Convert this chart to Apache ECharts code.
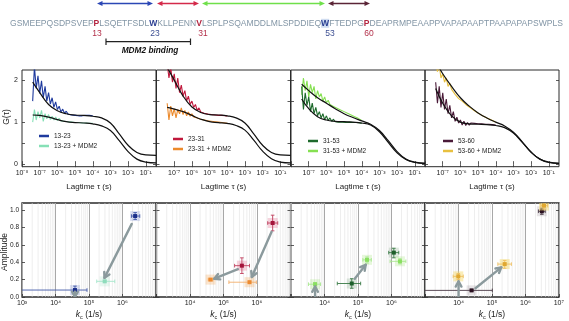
<!DOCTYPE html>
<html><head><meta charset="utf-8">
<script src="https://cdn.jsdelivr.net/npm/echarts@6/dist/echarts.min.js"></script>
<style>html,body{margin:0;padding:0;background:#fff}#c{width:569px;height:321px}</style>
</head><body><div id="c"></div>
<script>
// ================= DATA =================
// FCS lag times of the measured (noisy) traces, s
const LAG = [3.98e-8,5.01e-8,6.31e-8,7.94e-8,1.0e-7,1.26e-7,1.58e-7,2.0e-7,2.51e-7,3.16e-7,
  3.98e-7,5.01e-7,6.31e-7,7.94e-7,1.0e-6,1.26e-6,1.58e-6,2.0e-6,2.51e-6,3.16e-6,
  3.98e-6,5.01e-6,6.31e-6,7.94e-6,1.0e-5,1.26e-5,1.58e-5,2.0e-5,2.51e-5,3.16e-5,
  3.98e-5,5.01e-5,6.31e-5,7.94e-5,1.0e-4];
// lag times of the fitted curves, s
const FIT_LAG = [3.98e-8,1e-7,3.16e-7,1e-6,3.16e-6,1e-5,3.16e-5,1e-4,3.16e-4,1e-3,3.16e-3,1e-2,3.16e-2,1e-1,0.38];

const G_13_23 = [1.50,2.32,1.80,2.10,1.68,1.98,1.58,1.85,1.50,1.70,1.43,1.58,1.35,1.48,1.30,1.38,1.24,1.31,1.21,1.26,1.19,1.23,1.17,1.20,1.16,1.19,1.15,1.18,1.15,1.17,1.16,1.15,1.16,1.14,1.15];
const G_13_23_MDM2 = [1.00,1.30,1.05,1.25,1.10,1.28,1.02,1.20,1.08,1.18,1.06,1.14,1.05,1.12,1.04,1.09,1.03,1.06,1.02,1.04,1.01,1.02,1.00,1.01,0.99,1.00,0.99,0.99,0.98,0.99,0.98,0.98,0.97,0.98,0.97];
const G_23_31 = [2.40,2.05,2.30,1.95,2.15,1.80,2.05,1.70,1.88,1.62,1.75,1.50,1.62,1.42,1.50,1.35,1.42,1.28,1.34,1.24,1.28,1.21,1.23,1.19,1.21,1.18,1.19,1.17,1.18,1.16,1.17,1.16,1.16,1.15,1.15];
const G_23_31_MDM2 = [1.45,1.05,1.38,1.15,1.32,1.10,1.30,1.20,1.34,1.18,1.28,1.15,1.24,1.14,1.20,1.12,1.16,1.10,1.12,1.07,1.08,1.05,1.05,1.03,1.03,1.02,1.01,1.01,1.00,1.00,0.99,0.99,0.98,0.98,0.97];
const G_31_53 = [1.85,1.30,1.70,1.40,1.60,1.25,1.45,1.20,1.35,1.15,1.25,1.10,1.20,1.06,1.15,1.04,1.10,1.02,1.07,1.01,1.05,1.00,1.03,1.00,1.02,0.99,1.01,1.00,1.00,0.99,0.99,0.99,0.98,0.98,0.97];
const G_31_53_MDM2 = [1.65,2.05,1.75,1.98,1.60,1.90,1.70,1.85,1.55,1.75,1.60,1.68,1.50,1.60,1.46,1.52,1.42,1.46,1.37,1.40,1.33,1.34,1.29,1.29,1.25,1.24,1.21,1.20,1.17,1.16,1.13,1.12,1.09,1.07,1.04];
const G_53_60 = [1.95,1.45,1.85,1.35,1.70,1.30,1.55,1.20,1.40,1.10,1.25,1.02,1.12,0.98,1.05,0.93,1.02,0.92,0.99,0.93,0.98,0.94,0.97,0.94,0.96,0.94,0.96,0.95,0.95,0.94,0.95,0.94,0.94,0.93,0.93];
const G_53_60_MDM2 = [2.40,2.20,2.35,2.05,2.15,1.95,2.05,1.85,1.92,1.78,1.80,1.66,1.70,1.56,1.60,1.50,1.50,1.42,1.42,1.36,1.36,1.30,1.29,1.24,1.23,1.19,1.18,1.14,1.13,1.10,1.09,1.06,1.04,1.02,1.00];

const FIT_13_23 = [1.95,1.70,1.42,1.27,1.20,1.17,1.16,1.14,1.10,0.98,0.72,0.45,0.28,0.22,0.21];
const FIT_13_23_MDM2 = [1.17,1.16,1.12,1.06,1.01,0.99,0.98,0.96,0.91,0.80,0.56,0.30,0.12,0.05,0.03];
const FIT_23_31 = [2.30,2.00,1.62,1.36,1.23,1.18,1.17,1.15,1.10,0.98,0.72,0.45,0.28,0.22,0.21];
const FIT_23_31_MDM2 = [1.35,1.31,1.25,1.16,1.07,1.01,0.99,0.97,0.92,0.81,0.57,0.31,0.13,0.05,0.03];
const FIT_31_53 = [1.55,1.32,1.13,1.05,1.02,1.01,1.00,0.98,0.93,0.77,0.52,0.27,0.11,0.04,0.02];
const FIT_31_53_MDM2 = [1.90,1.75,1.58,1.45,1.32,1.20,1.11,1.03,0.95,0.80,0.56,0.30,0.12,0.05,0.02];
const FIT_53_60 = [1.80,1.45,1.15,1.00,0.96,0.95,0.94,0.92,0.87,0.74,0.52,0.28,0.12,0.04,0.02];
const FIT_53_60_MDM2 = [2.45,2.15,1.85,1.58,1.38,1.22,1.10,1.00,0.91,0.76,0.53,0.29,0.12,0.05,0.02];

const LEGEND_NAMES = [['13-23','13-23 + MDM2'],['23-31','23-31 + MDM2'],['31-53','31-53 + MDM2'],['53-60','53-60 + MDM2']];

// kc points: [kc (1/s), amplitude, kc low, kc high, amp low, amp high]
const K_13_23 = [[2.4e6,0.93,1.86e6,3.3e6,0.89,0.97],[3.8e4,0.08,1e2,8.7e4,0.035,0.125]];
const K_13_23_MDM2 = [[2.95e5,0.18,1.7e5,5.9e5,0.17,0.19]];
const K_23_31 = [[2.95e6,0.85,2.1e6,4.2e6,0.76,0.94],[3.55e5,0.36,2.15e5,6.0e5,0.27,0.45]];
const K_23_31_MDM2 = [[4.1e4,0.20,3.5e4,4.8e4,0.19,0.21],[6.0e5,0.17,1.45e5,9.6e5,0.16,0.18]];
const K_31_53 = [[6.5e4,0.155,2.4e4,1.2e5,0.10,0.21],[1.18e6,0.51,8.3e5,1.66e6,0.45,0.56]];
const K_31_53_MDM2 = [[5.2e3,0.147,3.3e3,7.6e3,0.13,0.165],[1.86e5,0.427,1.4e5,2.5e5,0.39,0.46],[1.8e6,0.41,9.1e5,2.7e6,0.38,0.44]];
const K_53_60 = [[2.45e4,0.076,1e2,1.02e5,0.065,0.087],[3.1e6,0.985,2.45e6,3.9e6,0.95,1.02]];
const K_53_60_MDM2 = [[9.8e3,0.237,6.9e3,1.38e4,0.20,0.27],[2.4e5,0.378,1.5e5,3.8e5,0.33,0.42],[3.6e6,1.05,2.9e6,4.6e6,1.01,1.09]];
// shift arrows: [kc from, amp from, kc to, amp to]
const ARROWS_13_23 = [[1.9e6,0.84,2.9e5,0.22],[3.8e4,0.06,3.8e4,0.0]];
const ARROWS_23_31 = [[2.75e6,0.75,7.0e5,0.23],[2.7e5,0.32,5.3e4,0.21]];
const ARROWS_31_53 = [[5.2e3,0.0,5.2e3,0.12],[8.0e4,0.21,1.7e5,0.37]];
const ARROWS_53_60 = [[1.0e4,0.0,1.0e4,0.18],[3.2e4,0.10,1.9e5,0.34]];

const TOP_TICKS = [1e-8,1e-7,1e-6,1e-5,1e-4,1e-3,1e-2,1e-1];
const BOT_TICKS = [1e3,1e4,1e5,1e6,1e7];
const G_TICKS = [0,0.5,1,1.5,2];
const G_LABELS = [0,1,2];
const AMP_TICKS = [0,0.2,0.4,0.6,0.8,1.0];

// ================= STYLE / LAYOUT =================
const FONT = '"Liberation Sans", Arial, sans-serif';
const TXT = '#222';
const PANEL_LEFT = [22, 156.5, 291, 425];
const PANEL_W = 134;
const TOP_COLORS = [['#1f3a9e','#86e0b6'],['#c0183c','#ec8a2c'],['#1e6a2c','#86e052'],['#4a1a38','#e8c040']];
const TOP_DATA = [[G_13_23,G_13_23_MDM2],[G_23_31,G_23_31_MDM2],[G_31_53,G_31_53_MDM2],[G_53_60,G_53_60_MDM2]];
const TOP_FITS = [[FIT_13_23,FIT_13_23_MDM2],[FIT_23_31,FIT_23_31_MDM2],[FIT_31_53,FIT_31_53_MDM2],[FIT_53_60,FIT_53_60_MDM2]];
const LEGEND_POS = [[39,131],[173,134],[308,136],[443,136]];
const BOT_SETS = [
  {pts:[K_13_23,K_13_23_MDM2], arrows:ARROWS_13_23, labels:[1e3,1e4,1e5,1e6]},
  {pts:[K_23_31,K_23_31_MDM2], arrows:ARROWS_23_31, labels:[1e4,1e5,1e6]},
  {pts:[K_31_53,K_31_53_MDM2], arrows:ARROWS_31_53, labels:[1e4,1e5,1e6]},
  {pts:[K_53_60,K_53_60_MDM2], arrows:ARROWS_53_60, labels:[1e4,1e5,1e6,1e7]}
];
const BOT_COLORS = [
  [{mark:'#1a2e8a',bar:'#4258a8',halo:'rgba(60,90,190,0.18)'},{mark:'#8fdcbc',bar:'#a6e6cb',halo:'rgba(140,220,185,0.2)'}],
  [{mark:'#a3143a',bar:'#c0405e',halo:'rgba(220,80,120,0.25)'},{mark:'#ec8a30',bar:'#f2ae6a',halo:'rgba(240,150,60,0.25)'}],
  [{mark:'#1d5e2a',bar:'#3a7a46',halo:'rgba(40,110,50,0.15)'},{mark:'#8adf60',bar:'#a8e88e',halo:'rgba(140,220,90,0.22)'}],
  [{mark:'#2a1020',bar:'#4a3a46',halo:'rgba(60,30,50,0.12)'},{mark:'#e0a830',bar:'#eec060',halo:'rgba(245,215,100,0.45)'}]
];

const SUP = {'-':'\u207B','0':'\u2070','1':'\u00B9','2':'\u00B2','3':'\u00B3','4':'\u2074','5':'\u2075','6':'\u2076','7':'\u2077','8':'\u2078','9':'\u2079'};
function pow10Label(v){ const e = Math.round(Math.log10(v)); return '10' + String(e).split('').map(c => SUP[c]).join(''); }

const MINOR_K = [];
for (let d = 3; d < 7; d++) for (let m = 2; m <= 9; m++) MINOR_K.push(m * Math.pow(10, d));

// ================= OPTION =================
const grid = [], xAxis = [], yAxis = [], series = [], legend = [];

for (let i = 0; i < 4; i++) {
  grid.push({left: PANEL_LEFT[i], top: 70, width: PANEL_W, height: 96.7, show: true, borderColor: '#2a2a2a', borderWidth: 1, backgroundColor: 'transparent'});
}
for (let i = 0; i < 4; i++) {
  grid.push({left: PANEL_LEFT[i], top: 203, width: PANEL_W, height: 98, show: true, borderColor: '#2a2a2a', borderWidth: 1.3, backgroundColor: 'transparent'});
}

function tickStyle(vals){ return {show: true, inside: true, length: 3, customValues: vals, lineStyle: {color: '#333', width: 0.8}}; }

// top panels axes
for (let i = 0; i < 4; i++) {
  xAxis.push({type: 'log', logBase: 10, gridIndex: i, min: 9.9e-9, max: 0.38,
    axisLine: {show: false}, axisTick: tickStyle(TOP_TICKS), splitLine: {show: false},
    axisLabel: {customValues: i === 0 ? TOP_TICKS : TOP_TICKS.slice(1), formatter: pow10Label, fontSize: 7, margin: 3, color: TXT, fontFamily: FONT},
    name: 'Lagtime \u03C4 (s)', nameLocation: 'middle', nameGap: 16, nameTextStyle: {fontSize: 8, color: TXT, fontFamily: FONT}});
  xAxis.push({type: 'log', logBase: 10, gridIndex: i, position: 'top', min: 9.9e-9, max: 0.38,
    axisLine: {show: false}, axisTick: tickStyle(TOP_TICKS), splitLine: {show: false}, axisLabel: {show: false}});
  yAxis.push({type: 'value', gridIndex: i, min: -0.06, max: 2.24,
    axisLine: {show: false}, axisTick: tickStyle(G_TICKS), splitLine: {show: false},
    axisLabel: {show: i === 0, customValues: G_LABELS, fontSize: 7, margin: 4, color: TXT, fontFamily: FONT}});
  yAxis.push({type: 'value', gridIndex: i, position: 'right', min: -0.06, max: 2.24,
    axisLine: {show: false}, axisTick: tickStyle(G_TICKS), splitLine: {show: false}, axisLabel: {show: false}});
}
// bottom panels axes
for (let i = 0; i < 4; i++) {
  const g = 4 + i;
  xAxis.push({type: 'log', logBase: 10, gridIndex: g, min: 990, max: 1.01e7,
    axisLine: {show: false}, axisTick: tickStyle(BOT_TICKS),
    splitLine: {show: true, lineStyle: {color: '#a8a8a8', width: 1}},
    axisLabel: {customValues: BOT_SETS[i].labels, formatter: pow10Label, fontSize: 7, margin: 2.5, color: TXT, fontFamily: FONT},
    name: '{k|k}{c|c}{n| (1/s)}', nameLocation: 'middle', nameGap: 12,
    nameTextStyle: {fontFamily: FONT, color: TXT, rich: {
      k: {fontSize: 8.5, fontStyle: 'italic', color: TXT, fontFamily: FONT},
      c: {fontSize: 5.5, padding: [5,0,0,0], color: TXT, fontFamily: FONT},
      n: {fontSize: 8.5, color: TXT, fontFamily: FONT}}}});
  xAxis.push({type: 'log', logBase: 10, gridIndex: g, position: 'top', min: 990, max: 1.01e7,
    axisLine: {show: false}, axisTick: {show: false}, splitLine: {show: false}, axisLabel: {show: false}});
  yAxis.push({type: 'value', gridIndex: g, min: 0, max: 1.08,
    axisLine: {show: false}, axisTick: tickStyle(AMP_TICKS), splitLine: {show: false},
    axisLabel: {show: i === 0, customValues: AMP_TICKS, formatter: v => v.toFixed(1), fontSize: 6.5, margin: 3, color: TXT, fontFamily: FONT}});
  yAxis.push({type: 'value', gridIndex: g, position: 'right', min: 0, max: 1.08,
    axisLine: {show: false}, axisTick: tickStyle(AMP_TICKS), splitLine: {show: false}, axisLabel: {show: false}});
}

// top series
for (let i = 0; i < 4; i++) {
  for (let s = 0; s < 2; s++) {
    const col = TOP_COLORS[i][s];
    series.push({type: 'line', name: LEGEND_NAMES[i][s], xAxisIndex: 2*i, yAxisIndex: 2*i,
      data: LAG.map((t, j) => [t, TOP_DATA[i][s][j]]), symbol: 'none', clip: true,
      lineStyle: {color: col, width: 1.1}, itemStyle: {color: col}, z: 2 + (1 - s)});
  }
  for (let s = 0; s < 2; s++) {
    series.push({type: 'line', xAxisIndex: 2*i, yAxisIndex: 2*i,
      data: FIT_LAG.map((t, j) => [t, TOP_FITS[i][s][j]]), symbol: 'none', clip: true,
      smooth: 0.45, lineStyle: {color: '#111', width: 1.2}, z: 5, silent: true});
  }
  legend.push({data: LEGEND_NAMES[i], left: LEGEND_POS[i][0], top: LEGEND_POS[i][1], orient: 'vertical',
    icon: 'rect', itemWidth: 10, itemHeight: 2.5, itemGap: 0, padding: 0, selectedMode: false,
    textStyle: {fontSize: 6.5, lineHeight: 10, color: TXT, fontFamily: FONT}});
}

// bottom series
for (let i = 0; i < 4; i++) {
  const xi = 8 + 2*i, yi = 8 + 2*i;
  // minor log grid lines
  series.push({type: 'custom', xAxisIndex: xi, yAxisIndex: yi, silent: true, z: 0,
    data: MINOR_K.map(v => [v]), encode: {x: 0},
    renderItem: (params, api) => {
      const a = api.coord([api.value(0), 0]), b = api.coord([api.value(0), 1.08]);
      return {type: 'line', shape: {x1: a[0], y1: a[1], x2: b[0], y2: b[1]}, style: {stroke: '#e2e2e2', lineWidth: 0.6}};
    }});
  // points with error bars
  for (let s = 0; s < 2; s++) {
    const col = BOT_COLORS[i][s];
    series.push({type: 'custom', xAxisIndex: xi, yAxisIndex: yi, clip: true, z: 3 + s, silent: true,
      data: BOT_SETS[i].pts[s], encode: {x: [0,2,3], y: [1,4,5]},
      renderItem: (params, api) => {
        const x = api.value(0), y = api.value(1);
        const c = api.coord([x, y]);
        const xl = api.coord([api.value(2), y])[0], xh = api.coord([api.value(3), y])[0];
        const yl = api.coord([x, api.value(4)])[1], yh = api.coord([x, api.value(5)])[1];
        const cap = 1.8, ls = {stroke: col.bar, lineWidth: 0.9};
        return {type: 'group', children: [
          {type: 'rect', shape: {x: c[0]-5, y: c[1]-5, width: 10, height: 10}, style: {fill: col.halo}},
          {type: 'line', shape: {x1: xl, y1: c[1], x2: xh, y2: c[1]}, style: ls},
          {type: 'line', shape: {x1: xl, y1: c[1]-cap, x2: xl, y2: c[1]+cap}, style: ls},
          {type: 'line', shape: {x1: xh, y1: c[1]-cap, x2: xh, y2: c[1]+cap}, style: ls},
          {type: 'line', shape: {x1: c[0], y1: yl, x2: c[0], y2: yh}, style: ls},
          {type: 'line', shape: {x1: c[0]-cap, y1: yl, x2: c[0]+cap, y2: yl}, style: ls},
          {type: 'line', shape: {x1: c[0]-cap, y1: yh, x2: c[0]+cap, y2: yh}, style: ls},
          {type: 'rect', shape: {x: c[0]-2, y: c[1]-2, width: 4, height: 4}, style: {fill: col.mark}}
        ]};
      }});
  }
  // arrows
  series.push({type: 'custom', xAxisIndex: xi, yAxisIndex: yi, clip: true, z: 6, silent: true,
    data: BOT_SETS[i].arrows, encode: {x: [0,2], y: [1,3]},
    renderItem: (params, api) => {
      const p1 = api.coord([api.value(0), api.value(1)]);
      const p2 = api.coord([api.value(2), api.value(3)]);
      const ang = Math.atan2(p2[1]-p1[1], p2[0]-p1[0]);
      const L = 6, w = 0.5;
      const h1 = [p2[0] - L*Math.cos(ang - w), p2[1] - L*Math.sin(ang - w)];
      const h2 = [p2[0] - L*Math.cos(ang + w), p2[1] - L*Math.sin(ang + w)];
      const st = {stroke: '#8b9a9d', lineWidth: 2.4, fill: 'none', lineCap: 'round', lineJoin: 'round'};
      return {type: 'group', children: [
        {type: 'line', shape: {x1: p1[0], y1: p1[1], x2: p2[0], y2: p2[1]}, style: st},
        {type: 'polyline', shape: {points: [h1, p2, h2]}, style: st}
      ]};
    }});
}

// ================= ANNOTATIONS (layout) =================
function dArrow(x1, x2, y, color) {
  return [
    {type: 'line', shape: {x1: x1 + 3, y1: y, x2: x2 - 3, y2: y}, style: {stroke: color, lineWidth: 1.4}},
    {type: 'polygon', shape: {points: [[x1, y], [x1 + 5.5, y - 2.6], [x1 + 5.5, y + 2.6]]}, style: {fill: color}},
    {type: 'polygon', shape: {points: [[x2, y], [x2 - 5.5, y - 2.6], [x2 - 5.5, y + 2.6]]}, style: {fill: color}}
  ];
}
const seqColor = '#8396a6';
const SEQ_RICH = {
  n: {fill: seqColor, color: seqColor, fontSize: 8.55, fontFamily: FONT},
  r: {fill: '#b3243f', color: '#b3243f', fontSize: 8.55, fontWeight: 'bold', fontFamily: FONT},
  b: {fill: '#2b3f92', color: '#2b3f92', fontSize: 8.55, fontWeight: 'bold', fontFamily: FONT},
  bb: {fill: '#2b3f92', color: '#2b3f92', fontSize: 8.55, fontWeight: 'bold', fontFamily: FONT, backgroundColor: '#cfdcf0'}
};
const graphic = [].concat(
  dArrow(97, 153, 3.5, '#2b47b5'),
  dArrow(157, 199, 3.5, '#d42a4a'),
  dArrow(202, 325, 3.5, '#6fe04a'),
  dArrow(328, 370, 3.5, '#5a2436'),
  [
    {type: 'text', x: 10, y: 23.3, style: {
      text: '{n|GSMEEPQSDPSVEP}{r|P}{n|LSQETFSDL}{b|W}{n|KLLPENN}{r|V}{n|LSPLPSQAMDDLMLSPDDIEQ}{bb|W}{n|FTEDPG}{r|P}{n|DEAPRMPEAAPPVAPAPAAPTPAAPAPAPSWPLS}',
      rich: SEQ_RICH, fontSize: 8.55, fontFamily: FONT, verticalAlign: 'middle', align: 'left'}},
    {type: 'text', x: 97, y: 33.3, style: {text: '13', fill: '#b3304a', fontSize: 8.5, fontFamily: FONT, align: 'center', verticalAlign: 'middle'}},
    {type: 'text', x: 155, y: 33.3, style: {text: '23', fill: '#3d4f92', fontSize: 8.5, fontFamily: FONT, align: 'center', verticalAlign: 'middle'}},
    {type: 'text', x: 203, y: 33.3, style: {text: '31', fill: '#b3304a', fontSize: 8.5, fontFamily: FONT, align: 'center', verticalAlign: 'middle'}},
    {type: 'text', x: 330, y: 33.3, style: {text: '53', fill: '#3d4f92', fontSize: 8.5, fontFamily: FONT, align: 'center', verticalAlign: 'middle'}},
    {type: 'text', x: 369, y: 33.3, style: {text: '60', fill: '#b3304a', fontSize: 8.5, fontFamily: FONT, align: 'center', verticalAlign: 'middle'}},
    {type: 'line', shape: {x1: 106, y1: 41.7, x2: 190.5, y2: 41.7}, style: {stroke: '#222', lineWidth: 1.2}},
    {type: 'line', shape: {x1: 106, y1: 38.5, x2: 106, y2: 45}, style: {stroke: '#222', lineWidth: 1.2}},
    {type: 'line', shape: {x1: 190.5, y1: 38.5, x2: 190.5, y2: 45}, style: {stroke: '#222', lineWidth: 1.2}},
    {type: 'text', x: 150, y: 51, style: {text: 'MDM2 binding', fill: '#111', fontSize: 8.3, fontWeight: 'bold', fontStyle: 'italic', fontFamily: FONT, align: 'center', verticalAlign: 'middle'}},
    {type: 'text', x: 6.5, y: 117, rotation: Math.PI / 2, style: {text: 'G(\u03C4)', fill: TXT, fontSize: 8.5, fontFamily: FONT, align: 'center', verticalAlign: 'middle'}},
    {type: 'text', x: 4.5, y: 252, rotation: Math.PI / 2, style: {text: 'Amplitude', fill: TXT, fontSize: 8.5, fontFamily: FONT, align: 'center', verticalAlign: 'middle'}}
  ]
);

const chart = echarts.init(document.getElementById('c'), null, {renderer: 'canvas', width: 569, height: 321});
chart.setOption({animation: false, backgroundColor: '#fff', textStyle: {fontFamily: FONT},
  grid, xAxis, yAxis, series, legend, graphic});
</script></body></html>
